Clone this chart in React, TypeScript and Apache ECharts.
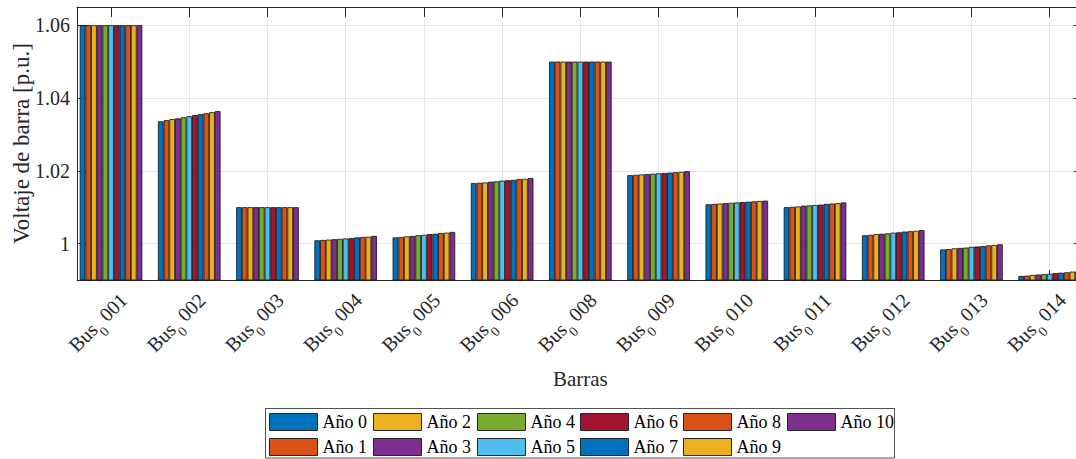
import React, { useEffect, useRef } from "react";
import * as echarts from "echarts";

const categories = ["001", "002", "003", "004", "005", "006", "008", "009", "010", "011", "012", "013", "014"];
const seriesNames = ["Año 0", "Año 1", "Año 2", "Año 3", "Año 4", "Año 5", "Año 6", "Año 7", "Año 8", "Año 9", "Año 10"];
const colors = ["#0072BD", "#D95319", "#EDB120", "#7E2F8E", "#77AC30", "#4DBEEE", "#A2142F", "#0072BD", "#D95319", "#EDB120", "#7E2F8E"];

// values per bus, one value per year (Año 0 .. Año 10)
const bus001 = [1.06, 1.06, 1.06, 1.06, 1.06, 1.06, 1.06, 1.06, 1.06, 1.06, 1.06];
const bus002 = [1.0336, 1.0339, 1.0342, 1.0344, 1.0347, 1.035, 1.0353, 1.0356, 1.0358, 1.0361, 1.0364];
const bus003 = [1.01, 1.01, 1.01, 1.01, 1.01, 1.01, 1.01, 1.01, 1.01, 1.01, 1.01];
const bus004 = [1.0009, 1.001, 1.0011, 1.0012, 1.0013, 1.0014, 1.0015, 1.0017, 1.0018, 1.0019, 1.0021];
const bus005 = [1.0017, 1.0018, 1.002, 1.0021, 1.0023, 1.0024, 1.0026, 1.0027, 1.0029, 1.003, 1.0032];
const bus006 = [1.0166, 1.0167, 1.0168, 1.017, 1.0171, 1.0173, 1.0174, 1.0175, 1.0177, 1.0178, 1.018];
const bus008 = [1.05, 1.05, 1.05, 1.05, 1.05, 1.05, 1.05, 1.05, 1.05, 1.05, 1.05];
const bus009 = [1.0188, 1.0189, 1.019, 1.0191, 1.0192, 1.0193, 1.0194, 1.0195, 1.0196, 1.0197, 1.0199];
const bus010 = [1.0108, 1.0109, 1.011, 1.0111, 1.0112, 1.0113, 1.0114, 1.0115, 1.0116, 1.0117, 1.0118];
const bus011 = [1.01, 1.0101, 1.0102, 1.0104, 1.0105, 1.0106, 1.0107, 1.0109, 1.011, 1.0111, 1.0113];
const bus012 = [1.0023, 1.0024, 1.0026, 1.0027, 1.0028, 1.003, 1.0031, 1.0033, 1.0034, 1.0035, 1.0037];
const bus013 = [0.9984, 0.9985, 0.9987, 0.9988, 0.9989, 0.9991, 0.9992, 0.9993, 0.9995, 0.9996, 0.9998];
const bus014 = [0.9911, 0.9912, 0.9914, 0.9915, 0.9916, 0.9917, 0.9919, 0.992, 0.9921, 0.9923, 0.9924];

const busRows = [bus001, bus002, bus003, bus004, bus005, bus006, bus008, bus009, bus010, bus011, bus012, bus013, bus014];

const yTicks = [1, 1.02, 1.04, 1.06];
const xTicks = categories.map((_, i) => i + 1);

const FONT = "Liberation Serif";
const AX = "#262626";

export default function App() {
  const ref = useRef<HTMLDivElement>(null);
  useEffect(() => {
    if (!ref.current) return;
    const chart = echarts.init(ref.current, null, { renderer: "svg" });

    const series = seriesNames.map((name, s) => ({
      name,
      type: "bar",
      xAxisIndex: 0,
      yAxisIndex: 0,
      barGap: "0%",
      barCategoryGap: "20%",
      itemStyle: { color: colors[s], borderColor: "#111", borderWidth: 0.8 },
      emphasis: { disabled: true },
      data: busRows.map((row, i) => [i + 1, row[s]]),
    }));

    const legendLefts = [269, 373, 477, 580, 683, 787];
    const legends = legendLefts.map((left, c) => ({
      orient: "vertical",
      left,
      top: 413,
      padding: 0,
      itemWidth: 48,
      itemHeight: 17,
      itemGap: 7,
      icon: "rect",
      selectedMode: false,
      data: seriesNames.slice(c * 2, c * 2 + 2),
      itemStyle: { borderColor: "#262626", borderWidth: 1 },
      textStyle: { fontFamily: FONT, fontSize: 18, color: "#000" },
    }));

    const option = {
      animation: false,
      color: colors,
      textStyle: { fontFamily: FONT },
      grid: { left: 77, top: 7, right: -7.7, bottom: 179, containLabel: false, outerBoundsMode: "none" },
      legend: legends,
      xAxis: [
        {
          type: "value",
          min: 0.565,
          max: 13.435,
          position: "bottom",
          name: "Barras",
          nameLocation: "middle",
          nameGap: 88,
          nameMoveOverlap: false,
          nameTextStyle: { fontFamily: FONT, fontSize: 21, color: AX },
          axisLine: { show: true, onZero: false, lineStyle: { color: AX, width: 1 } },
          axisTick: { show: true, inside: true, length: 10, customValues: xTicks, lineStyle: { color: AX } },
          splitLine: { show: true, customValues: xTicks, lineStyle: { color: "#e6e6e6", width: 1 } },
          axisLabel: {
            customValues: xTicks,
            rotate: 45,
            align: "right",
            verticalAlign: "top",
            margin: 4,
            padding: [8, 0, 0, 0],
            formatter: (v: number) => {
              const i = Math.round(v) - 1;
              return `{a|Bus}{s|0}{a| ${categories[i]}}`;
            },
            rich: {
              a: { fontFamily: FONT, fontSize: 20, color: AX, lineHeight: 20, verticalAlign: "top" },
              s: { fontFamily: FONT, fontSize: 14, color: AX, lineHeight: 28, verticalAlign: "bottom" },
            },
          },
        },
        {
          type: "value",
          min: 0.565,
          max: 13.435,
          position: "top",
          axisLine: { show: true, onZero: false, lineStyle: { color: AX, width: 1 } },
          axisTick: { show: true, inside: true, length: 10, customValues: xTicks, lineStyle: { color: AX } },
          axisLabel: { show: false },
          splitLine: { show: false },
        },
      ],
      yAxis: [
        {
          type: "value",
          min: 0.99,
          max: 1.065,
          position: "left",
          name: "Voltaje de barra [p.u.]",
          nameLocation: "middle",
          nameGap: 44,
          nameMoveOverlap: false,
          nameTextStyle: { fontFamily: FONT, fontSize: 23, color: AX },
          axisLine: { show: true, onZero: false, lineStyle: { color: AX, width: 1 } },
          axisTick: { show: true, inside: true, length: 10, customValues: yTicks, lineStyle: { color: AX } },
          splitLine: { show: true, customValues: yTicks, lineStyle: { color: "#e6e6e6", width: 1 } },
          axisLabel: {
            customValues: yTicks,
            margin: 7,
            fontFamily: FONT,
            fontSize: 20,
            color: AX,
            formatter: (v: number) => (Math.abs(v - 1) < 1e-9 ? "1" : v.toFixed(2)),
          },
        },
        {
          type: "value",
          min: 0.99,
          max: 1.065,
          position: "right",
          axisLine: { show: true, onZero: false, lineStyle: { color: AX, width: 1 } },
          axisTick: { show: true, inside: true, length: 10, customValues: yTicks, lineStyle: { color: AX } },
          axisLabel: { show: false },
          splitLine: { show: false },
        },
      ],
      graphic: [
        {
          type: "rect",
          shape: { x: 265.5, y: 408.5, width: 629, height: 49.5 },
          style: { fill: "#fff", stroke: "#262626", lineWidth: 0.8 },
          z: -1,
          silent: true,
        },
      ],
      series,
    };

    chart.setOption(option as any);
    return () => chart.dispose();
  }, []);

  return (
    <div
      ref={ref}
      style={{ position: "fixed", left: 0, top: 0, width: 1076, height: 459, background: "#fff" }}
    />
  );
}
